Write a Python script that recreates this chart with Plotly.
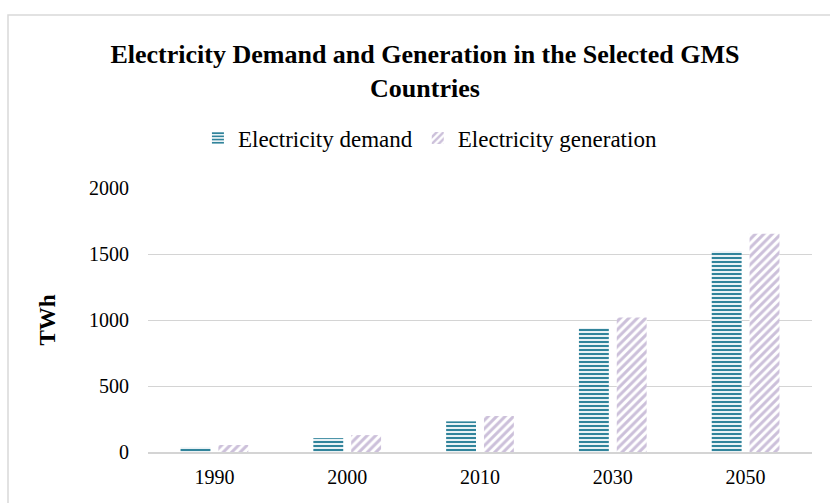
import plotly.graph_objects as go

years = ["1990", "2000", "2010", "2030", "2050"]
demand = [35, 105, 232, 939, 1520]
generation = [53, 128, 273, 1018, 1654]

TEAL = "#31849B"
LAV = "#CCC0DA"
FONT = "Liberation Serif"

fig = go.Figure()
fig.add_trace(go.Bar(
    x=years, y=demand, name="Electricity demand",
    marker=dict(color="white", line=dict(width=0),
                pattern=dict(shape="-", fgcolor=TEAL, bgcolor="white", fgopacity=1,
                             size=4, solidity=0.55, fillmode="replace")),
))
fig.add_trace(go.Bar(
    x=years, y=generation, name="Electricity generation",
    marker=dict(color="white", line=dict(width=0),
                pattern=dict(shape="/", fgcolor=LAV, bgcolor="white", fgopacity=1,
                             size=6, solidity=0.5, fillmode="replace")),
))

fig.update_layout(
    width=830, height=503,
    margin=dict(l=148, r=18, t=188, b=51),
    paper_bgcolor="white", plot_bgcolor="white",
    font=dict(family=FONT, size=20, color="black"),
    barmode="group", bargap=0.43, bargroupgap=0.21,
    title=dict(
        text="<b>Electricity Demand and Generation in the Selected GMS<br>Countries</b>",
        xref="container", x=0.512, xanchor="center",
        yref="container", y=1 - 63 / 503, yanchor="top",
        font=dict(family=FONT, size=26, color="black"),
    ),
    legend=dict(
        orientation="h", xref="container", x=0.518, xanchor="center",
        yref="container", y=1 - 138 / 503, yanchor="middle",
        font=dict(family=FONT, size=23, color="black"),
        itemwidth=30, traceorder="normal",
    ),
    showlegend=True,
)
fig.update_yaxes(
    range=[0, 2000], dtick=500, showgrid=True, gridcolor="#D4D4D4", gridwidth=1.2,
    zeroline=False, showline=False, ticks="",
    ticklabelstandoff=18, tickfont=dict(size=20),
    title=dict(text="<b>TWh</b>", font=dict(family=FONT, size=23, color="black"), standoff=26),
)
fig.update_xaxes(
    showline=True, linecolor="#D4D4D4", linewidth=1.5, ticks="", ticklabelstandoff=6,
    showgrid=False, tickfont=dict(size=20),
)
fig.add_shape(
    type="rect", xref="paper", yref="paper",
    x0=(8 - 148) / 664, x1=1.5, y0=-1, y1=(452 - 15) / 264,
    line=dict(color="#D9D9D9", width=1.5), fillcolor="rgba(0,0,0,0)", layer="below",
)

fig.write_html("out.html")
